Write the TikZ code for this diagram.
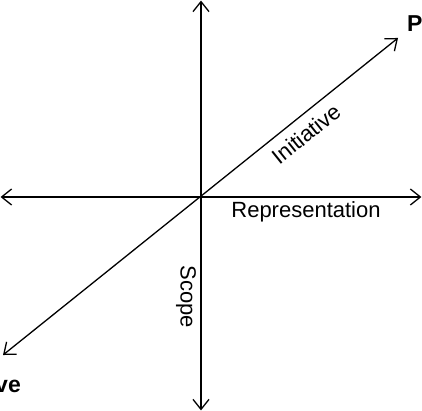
\documentclass[tikz,border=0pt]{standalone}
\usepackage{fontspec}
\setmainfont{Liberation Sans}
\usetikzlibrary{arrows.meta}
\begin{document}
\begin{tikzpicture}[x=1pt,y=-1pt,
  axis/.style={line width=1.3pt,{Straight Barb[length=10pt,width=16pt]}-{Straight Barb[length=10pt,width=16pt]}},
  lab/.style={inner sep=0pt,font=\fontsize{22}{26}\selectfont},
  blab/.style={inner sep=0pt,font=\fontsize{23}{27}\selectfont\bfseries}]
\useasboundingbox (0,0) rectangle (422,411);
\clip (0,0) rectangle (422,411);
\coordinate (top) at (201,0.6);
\coordinate (bot) at (201,410.4);
\coordinate (left) at (0.6,197);
\coordinate (right) at (421.4,197);
\coordinate (dl) at (3,355);
\coordinate (ur) at (398,38);
\draw[axis] (bot) -- (top);
\draw[axis] (left) -- (right);
\draw[axis] (dl) -- (ur);
\node[lab,anchor=base] (rep) at (306,218) {Representation};
\node[lab,rotate=-90] (scope) at (186,297) {Scope};
\node[lab,rotate=38.75] (init) at (306,134) {Initiative};
\node[blab,anchor=base west] (p) at (407,32) {P};
\node[blab,anchor=base east] (ve) at (21,392) {ve};
\end{tikzpicture}
\end{document}
